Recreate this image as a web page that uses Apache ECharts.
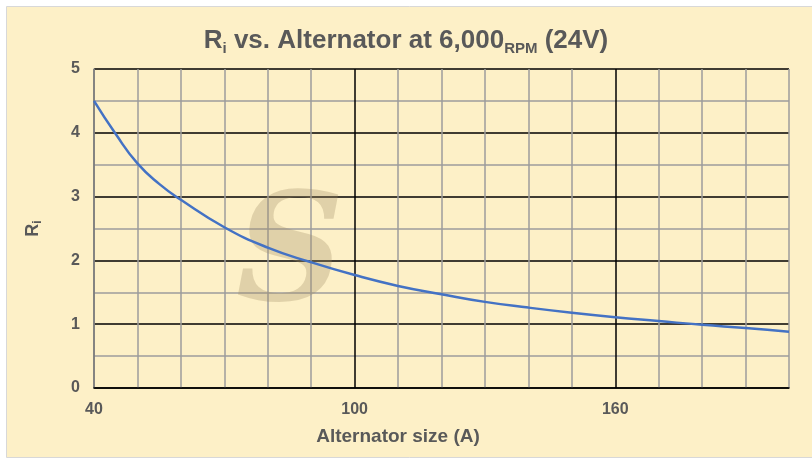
<!DOCTYPE html>
<html><head><meta charset="utf-8">
<script src="https://cdn.jsdelivr.net/npm/echarts@6/dist/echarts.min.js"></script>
<style>html,body{margin:0;padding:0;background:#fff}#c{width:812px;height:462px}</style>
</head><body><div id="c"></div>
<script>
const alternatorSize = [40, 45, 50, 55, 60, 70, 80, 90, 100, 110, 120, 130, 140, 150, 160, 170, 180, 190, 200];
const riValues = [4.5, 3.98, 3.52, 3.2, 2.95, 2.52, 2.2, 1.97, 1.77, 1.6, 1.47, 1.35, 1.26, 1.18, 1.11, 1.05, 0.99, 0.94, 0.88];
const xLabelTicks = [40, 100, 160];
const yLabelTicks = [0, 1, 2, 3, 4, 5];

const chart = echarts.init(document.getElementById('c'));
const txt = '#595959';
const font = '"Liberation Sans", Arial, sans-serif';
chart.setOption({
  backgroundColor: '#ffffff',
  animation: false,
  graphic: [
    {type: 'rect', z: -10, shape: {x: 6.5, y: 6.5, width: 810, height: 451},
     style: {fill: '#FDF0C7', stroke: '#d8d8d8', lineWidth: 1}},
    {type: 'text', z: 1, left: 236, top: 186,
     style: {text: 'S', font: 'italic bold 150px "DejaVu Serif", serif', fill: 'rgba(160,140,100,0.30)'}},
    {type: 'text', z: 5, x: 398, y: 437,
     style: {text: 'Alternator size (A)', font: 'bold 19px "Liberation Sans", Arial, sans-serif', fill: txt, align: 'center', verticalAlign: 'middle'}}
  ],
  title: {
    text: '{a|R}{s|i}{a| vs. Alternator at 6,000}{s|RPM}{a| (24V)}',
    left: 'center', top: 21,
    textStyle: {
      rich: {
        a: {fontSize: 26, fontWeight: 'bold', color: txt, fontFamily: font, lineHeight: 30, verticalAlign: 'middle'},
        s: {fontSize: 15, fontWeight: 'bold', color: txt, fontFamily: font, lineHeight: 10, verticalAlign: 'bottom'}
      }
    }
  },
  grid: {left: 94, right: 23, top: 69, bottom: 74},
  xAxis: {
    type: 'value', min: 40, max: 200, interval: 10,
    axisLine: {show: true, onZero: false, lineStyle: {color: '#000', width: 1.5}},
    axisTick: {show: false},
    axisLabel: {color: txt, fontSize: 16, fontWeight: 'bold', fontFamily: font, margin: 14,
      formatter: v => xLabelTicks.includes(v) ? String(v) : ''},
    splitLine: {show: true, lineStyle: {color: ['#000000', '#9c9c9c', '#9c9c9c', '#9c9c9c', '#9c9c9c', '#9c9c9c'], width: 1.5}}
  },
  yAxis: {
    type: 'value', min: 0, max: 5, interval: 0.5,
    name: '{a|R}{s|i}', nameLocation: 'middle', nameGap: 50, nameRotate: 90,
    nameTextStyle: {rich: {
      a: {fontSize: 18, fontWeight: 'bold', color: txt, fontFamily: font, lineHeight: 22, verticalAlign: 'middle'},
      s: {fontSize: 12, fontWeight: 'bold', color: txt, fontFamily: font, lineHeight: 8, verticalAlign: 'bottom'}
    }},
    axisLine: {show: true, lineStyle: {color: '#9c9c9c', width: 1.5}},
    axisTick: {show: false},
    axisLabel: {color: txt, fontSize: 16, fontWeight: 'bold', fontFamily: font, margin: 14,
      formatter: v => yLabelTicks.includes(v) ? String(v) : ''},
    splitLine: {show: true, lineStyle: {color: ['#000000', '#9c9c9c'], width: 1.5}}
  },
  series: [{
    type: 'line', smooth: true, showSymbol: false,
    data: alternatorSize.map((x, i) => [x, riValues[i]]),
    lineStyle: {color: '#4472C4', width: 2.5}
  }]
});
</script></body></html>
